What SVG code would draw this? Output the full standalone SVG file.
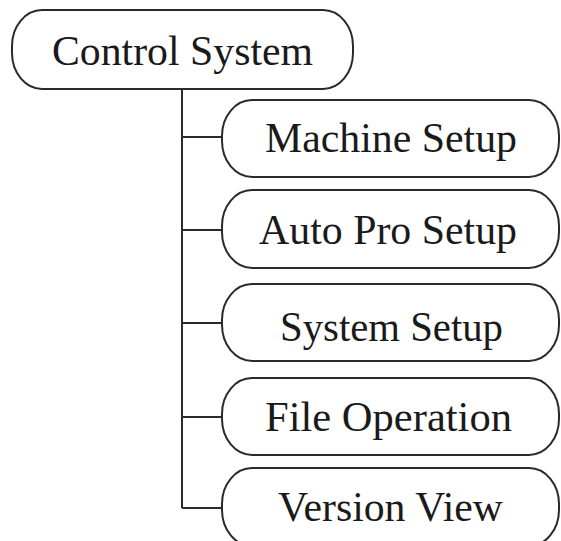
<svg xmlns="http://www.w3.org/2000/svg" width="561" height="541" viewBox="0 0 561 541">
<style>
.box{fill:#fff;stroke:#2a2a2a;stroke-width:2}
.lbl{font-family:"Liberation Serif",serif;font-size:43px;fill:#1a1a1a;text-anchor:middle}
.con{stroke:#2a2a2a;stroke-width:2;fill:none}
</style>
<rect width="561" height="541" fill="#fff"/>
<g id="connectors">
<path class="con" d="M182,89 V508"/>
<path class="con" d="M182,137 H222"/>
<path class="con" d="M182,230 H222"/>
<path class="con" d="M182,323 H222"/>
<path class="con" d="M182,417 H222"/>
<path class="con" d="M182,508 H222"/>
</g>
<g id="control-system">
<rect class="box" x="12" y="10" width="341" height="79" rx="30" ry="36"/>
<text class="lbl" x="182.5" y="65" textLength="261" lengthAdjust="spacingAndGlyphs">Control System</text>
</g>
<g id="machine-setup">
<rect class="box" x="222" y="100" width="337" height="77" rx="30" ry="36"/>
<text class="lbl" x="391" y="152" textLength="252" lengthAdjust="spacingAndGlyphs">Machine Setup</text>
</g>
<g id="auto-pro-setup">
<rect class="box" x="222" y="190" width="337" height="78" rx="30" ry="36"/>
<text class="lbl" x="388" y="244" textLength="258" lengthAdjust="spacingAndGlyphs">Auto Pro Setup</text>
</g>
<g id="system-setup">
<rect class="box" x="222" y="284" width="337" height="77" rx="30" ry="36"/>
<text class="lbl" x="391.5" y="341" textLength="223" lengthAdjust="spacingAndGlyphs">System Setup</text>
</g>
<g id="file-operation">
<rect class="box" x="222" y="378" width="337" height="77" rx="30" ry="36"/>
<text class="lbl" x="388.5" y="431" textLength="247" lengthAdjust="spacingAndGlyphs">File Operation</text>
</g>
<g id="version-view">
<rect class="box" x="222" y="468" width="337" height="78" rx="30" ry="36"/>
<text class="lbl" x="390.5" y="521" textLength="225" lengthAdjust="spacingAndGlyphs">Version View</text>
</g>
</svg>
